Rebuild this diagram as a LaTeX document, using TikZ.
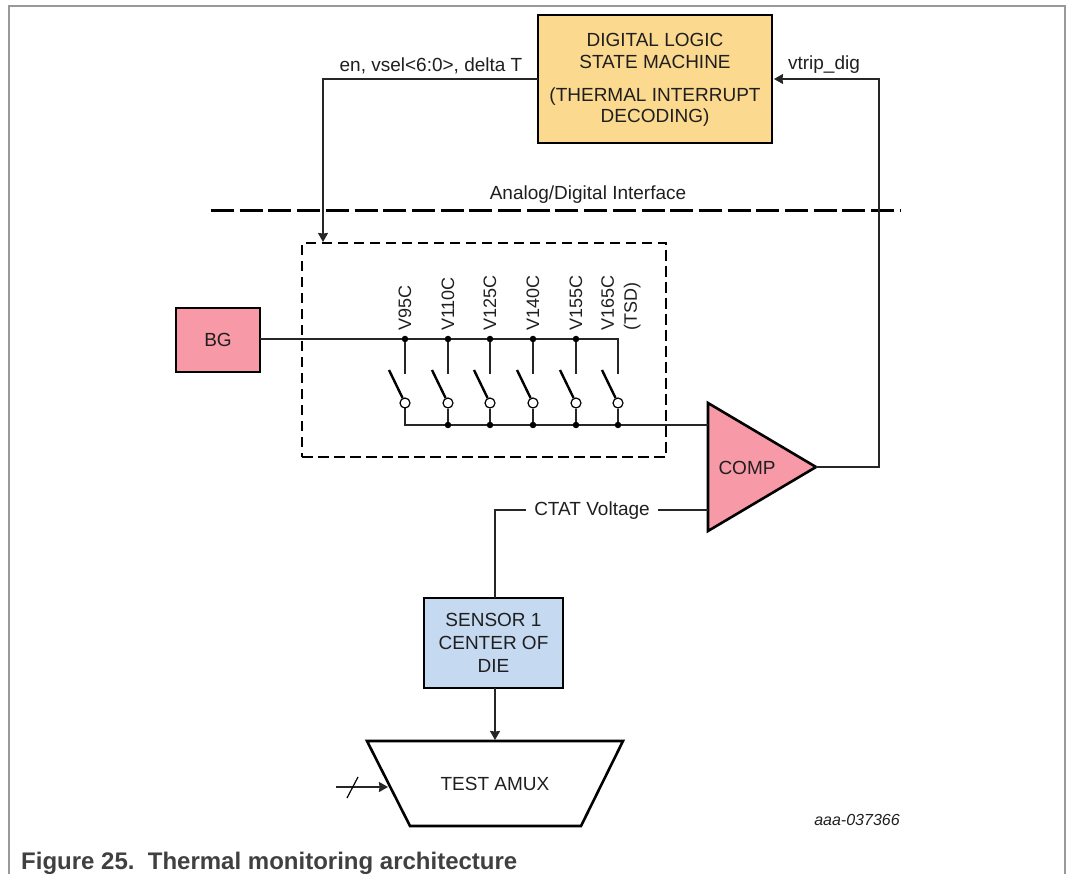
\documentclass[tikz,border=0pt]{standalone}
\usepackage{fontspec}
\setmainfont{Liberation Sans}
\usetikzlibrary{arrows.meta}

\definecolor{logicfill}{HTML}{FBD98E}
\definecolor{redfill}{HTML}{F799A6}
\definecolor{bluefill}{HTML}{C5D9F1}

\begin{document}
\begin{tikzpicture}[x=1pt,y=-1pt,
>={Stealth[length=9pt,width=10pt,inset=0.5pt]},
every node/.style={font=\fontsize{19}{23}\selectfont,text=black!88},
box/.style={draw=black,line width=2.6pt,align=center,inner sep=0pt},
vlbl/.style={rotate=90,anchor=west,inner sep=0pt,font=\fontsize{18}{23}\selectfont}]
\tikzstyle{ar} = [->,line width=1.3pt,black!85]
\tikzstyle{wire} = [line width=1.3pt,black!85]
\tikzstyle{dot} = [circle,fill=black,inner sep=0pt,minimum size=6.5pt]
\tikzstyle{pin} = [circle,draw=black,fill=white,line width=1.2pt,inner sep=0pt,minimum size=10pt]
\useasboundingbox (0,0) rectangle (1066,874);

% outer frame
\coordinate(fb1) at (9,874);
\coordinate(ft1) at (9,6);
\coordinate(ft2) at (1065,6);
\coordinate(fb2) at (1065,874);
\draw[black!40,line width=1.2pt] (fb1) -- (ft1) -- (ft2) -- (fb2);

% blocks
\node[box,fill=logicfill,minimum width=234pt,minimum height=128pt](logic) at (655,79){};
\node(l1) at (655,40){DIGITAL LOGIC};
\node(l2) at (655,62){STATE MACHINE};
\node(l3) at (655,97){(THERMAL INTERRUPT};
\node(l4) at (655,118){DECODING)};
\node[box,fill=redfill,minimum width=84pt,minimum height=64pt](bg) at (218,340){BG};
\node[box,fill=bluefill,minimum width=139pt,minimum height=90pt,
  font=\fontsize{19}{23}\selectfont](sensor) at (493.5,643){SENSOR 1\\CENTER OF\\DIE};

% comparator
\coordinate(c1) at (708,403);
\coordinate(c2) at (708,531);
\coordinate(cout) at (816,467);
\draw[fill=redfill,line width=2.6pt,line join=miter] (c1) -- (cout) -- (c2) -- cycle;
\node(comp) at (747,468){COMP};

% test mux
\coordinate(m1) at (367,741);
\coordinate(m2) at (623,741);
\coordinate(m3) at (581,826);
\coordinate(m4) at (410,826);
\draw[line width=2.6pt] (m1) -- (m2) -- (m3) -- (m4) -- cycle;
\node(amux) at (495,784){TEST AMUX};

% interface line and switch box
\coordinate(if1) at (211,211);
\coordinate(if2) at (900,211);
\draw[line width=3pt,dash pattern=on 23pt off 5.7pt] (if1) -- (if2);
\node(iflabel) at (588,195){Analog/Digital Interface};
\node[draw=black,dash pattern=on 10.5pt off 5.5pt,line width=2.6pt,inner sep=0pt,minimum width=364pt,minimum height=214pt](swbox) at (484,350){};

% feedback paths
\coordinate(enin) at (538,79);
\coordinate(encorner) at (323,79);
\coordinate(enend) at (323,242);
\draw[ar] (enin) -- (encorner) -- (enend);
\node(enlabel) at (431,66){en, vsel<6:0>, delta T};
\coordinate(vtcorner1) at (879,467);
\coordinate(vtcorner2) at (879,79);
\coordinate(vtend) at (774,79);
\draw[ar] (cout) -- (vtcorner1) -- (vtcorner2) -- (vtend);
\node(vtlabel) at (824,65){vtrip\_dig};

% switch ladder
\coordinate(bus1) at (260,339);
\coordinate(bus2) at (618,339);
\coordinate(bus3) at (618,374);
\draw[wire] (bus1) -- (bus2) -- (bus3);
\coordinate(low1) at (405,403);
\coordinate(low2) at (405,425);
\coordinate(low3) at (708,425);
\draw[wire] (low1) -- (low2) -- (low3);
\foreach \x/\name in {405/V95C,448/V110C,490/V125C,533/V140C,576/V155C}{
  \node[dot](top\x) at (\x,339){};
  \coordinate(sw\x) at (\x,374);
  \draw[wire] (top\x) -- (sw\x);
  \node[vlbl](lab\x) at (\x,331){\name};
}
\node[vlbl,align=left](lab618) at (621,331){V165C\\(TSD)};
\foreach \x in {405,448,490,533,576,618}{
  \coordinate(arm\x) at (\x-16,370);
  \node[pin](pin\x) at (\x,403){};
  \draw[line width=2.4pt] (arm\x) -- (pin\x);
}
\foreach \x in {448,490,533,576,618}{
  \node[dot](bot\x) at (\x,425){};
  \draw[wire] (pin\x) -- (bot\x);
}

% CTAT input and sensor
\node[inner xsep=8.5pt,inner ysep=2pt](ctat) at (592,511){CTAT Voltage};
\coordinate(ctin) at (708,510);
\coordinate(ctcorner) at (495,510);
\coordinate(ctend) at (495,598);
\draw[wire] (ctin) -- (ctat.east |- ctin);
\draw[wire] (ctat.west |- ctin) -- (ctcorner) -- (ctend);
\coordinate(sout) at (495,688);
\coordinate(aminput) at (495,740);
\draw[ar] (sout) -- (aminput);

% mux side input
\coordinate(bus4) at (336,787);
\coordinate(bus5) at (388,787);
\draw[ar] (bus4) -- (bus5);
\coordinate(sl1) at (347,798);
\coordinate(sl2) at (358,777);
\draw[line width=1.2pt] (sl1) -- (sl2);

% notes
\node[font=\fontsize{16}{18}\itshape\selectfont](ref) at (857,820){aaa-037366};
\node[anchor=base west,inner sep=0pt,text=black!75,font=\fontsize{24}{26}\bfseries\selectfont](caption) at (21,869){Figure 25.\ \ Thermal monitoring architecture};

\end{tikzpicture}
\end{document}
